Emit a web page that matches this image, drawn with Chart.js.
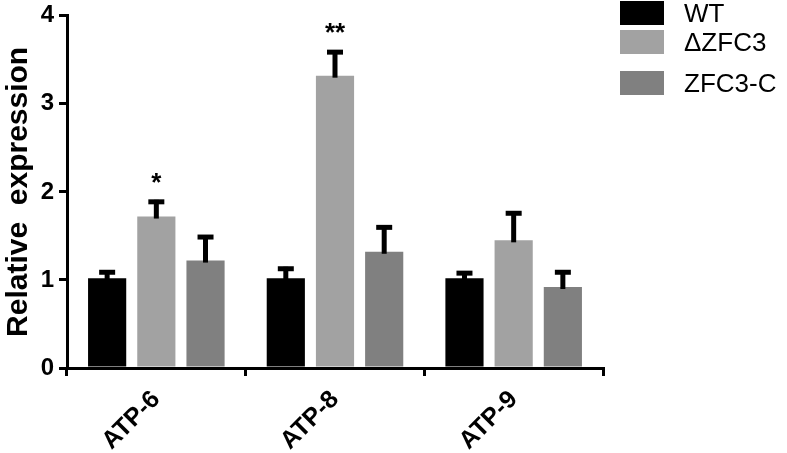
<!DOCTYPE html>
<html>
<head>
<meta charset="utf-8">
<script src="https://cdn.jsdelivr.net/npm/chart.js@4.4.1/dist/chart.umd.min.js"></script>
<style>
    html, body { margin: 0; padding: 0; background: #fff; }
    #wrap { position: relative; width: 787px; height: 453px; }
    #legend { position: absolute; left: 620px; top: 1px; font-family: "Liberation Sans", Arial, sans-serif; font-size: 26px; color: #000; }
    .item { display: flex; align-items: center; height: 24px; margin-bottom: 5px; }
    .item:nth-child(2) { margin-bottom: 17px; }
    .swatch { width: 44px; height: 24px; margin-right: 20px; }
</style>
</head>
<body>
<div id="wrap">
    <canvas id="chart" width="787" height="453"></canvas>
    <div id="legend"></div>
</div>
<script>
// Data
const categories = ['ATP-6', 'ATP-8', 'ATP-9'];
const seriesNames = ['WT', 'ΔZFC3', 'ZFC3-C'];
const wtValues = [1.02, 1.02, 1.02];
const wtErrors = [0.09, 0.13, 0.08];
const koValues = [1.72, 3.32, 1.45];
const koErrors = [0.19, 0.29, 0.33];
const compValues = [1.22, 1.32, 0.92];
const compErrors = [0.29, 0.30, 0.19];
const koMarks = ['*', '**', ''];
const yTicks = [0, 1, 2, 3, 4];

const colors = ['#000000', '#a2a2a2', '#808080'];
const fontFamily = '"Liberation Sans", Arial, sans-serif';

// Error bars (upper only) + significance stars
const errorBarPlugin = {
    id: 'errorBars',
    afterDatasetsDraw(chart) {
        const ctx = chart.ctx;
        const yScale = chart.scales.y;
        ctx.save();
        ctx.strokeStyle = '#000';
        ctx.fillStyle = '#000';
        chart.data.datasets.forEach((ds, i) => {
            const meta = chart.getDatasetMeta(i);
            meta.data.forEach((bar, j) => {
                const top = yScale.getPixelForValue(ds.data[j] + ds.errors[j]);
                ctx.lineWidth = 5;
                ctx.beginPath();
                ctx.moveTo(bar.x, bar.y + 2);
                ctx.lineTo(bar.x, top);
                ctx.stroke();
                ctx.beginPath();
                ctx.moveTo(bar.x - 8, top + 2);
                ctx.lineTo(bar.x + 8, top + 2);
                ctx.stroke();
                const mark = ds.marks ? ds.marks[j] : '';
                if (mark) {
                    ctx.font = 'bold 26px ' + fontFamily;
                    ctx.textAlign = 'center';
                    ctx.textBaseline = 'alphabetic';
                    ctx.fillText(mark, bar.x, top - 9);
                }
            });
        });
        ctx.restore();
    }
};

const ctx = document.getElementById('chart');
new Chart(ctx, {
    type: 'bar',
    data: {
        labels: categories,
        datasets: [
            { label: seriesNames[0], data: wtValues, errors: wtErrors, backgroundColor: colors[0] },
            { label: seriesNames[1], data: koValues, errors: koErrors, marks: koMarks, backgroundColor: colors[1] },
            { label: seriesNames[2], data: compValues, errors: compErrors, backgroundColor: colors[2] }
        ]
    },
    options: {
        responsive: false,
        animation: false,
        categoryPercentage: 0.826,
        barPercentage: 0.776,
        layout: { padding: { left: 0, top: 11, right: 184, bottom: 0 } },
        plugins: {
            legend: { display: false },
            tooltip: { enabled: false }
        },
        scales: {
            x: {
                grid: { display: true, drawOnChartArea: false, drawTicks: true, tickLength: 8, color: '#000', lineWidth: 3 },
                border: { display: true, color: '#000', width: 3 },
                ticks: {
                    color: '#000',
                    maxRotation: 45,
                    minRotation: 45,
                    padding: 9,
                    font: { family: fontFamily, size: 25, weight: 'bold' }
                },
                afterFit(scale) { scale.height = 85; }
            },
            y: {
                min: 0,
                max: 4,
                afterBuildTicks(scale) { scale.ticks = yTicks.map(v => ({ value: v })); },
                grid: { display: true, drawOnChartArea: false, drawTicks: true, tickLength: 8, color: '#000', lineWidth: 3 },
                border: { display: true, color: '#000', width: 3 },
                ticks: {
                    color: '#000',
                    padding: 5,
                    font: { family: fontFamily, size: 24, weight: 'bold', lineHeight: 0.9 }
                },
                title: {
                    display: true,
                    text: 'Relative  expression',
                    color: '#000',
                    padding: { top: 1, bottom: 0 },
                    font: { family: fontFamily, size: 30, weight: 'bold' }
                },
                afterFit(scale) { scale.width = 67; }
            }
        }
    },
    plugins: [errorBarPlugin]
});

// HTML legend built from the series
const legendEl = document.getElementById('legend');
seriesNames.forEach((name, i) => {
    const item = document.createElement('div');
    item.className = 'item';
    const sw = document.createElement('span');
    sw.className = 'swatch';
    sw.style.background = colors[i];
    const txt = document.createElement('span');
    txt.textContent = name;
    item.appendChild(sw);
    item.appendChild(txt);
    legendEl.appendChild(item);
});
</script>
</body>
</html>
